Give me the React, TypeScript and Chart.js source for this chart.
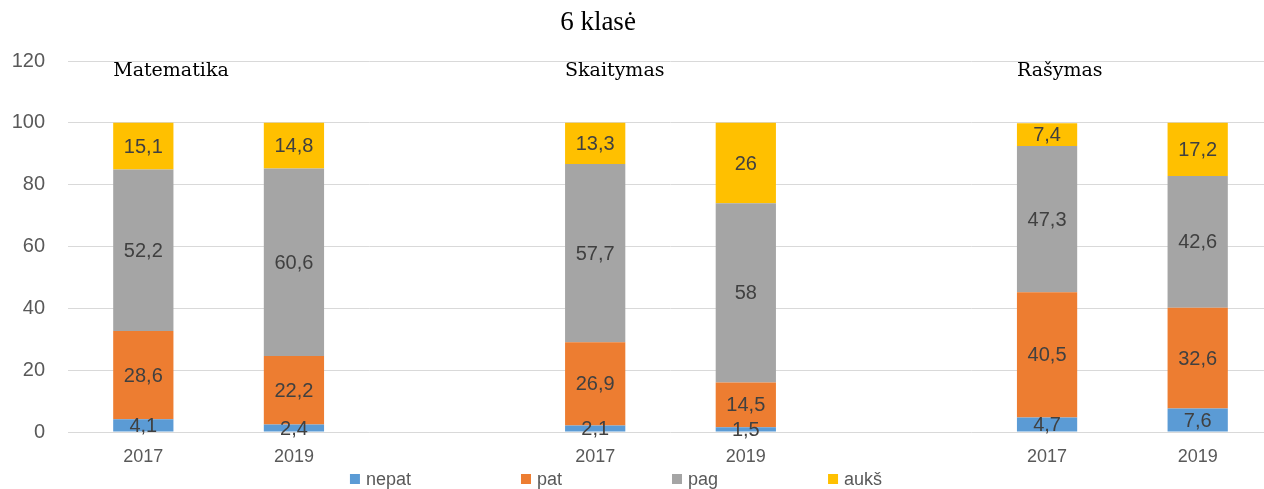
import React, { useEffect, useRef } from 'react';
import { Chart, registerables } from 'chart.js';

Chart.register(...registerables);

const title = '6 klasė';
const categories = ['2017', '2019', '', '2017', '2019', '', '2017', '2019'];
const subjects = ['Matematika', 'Skaitymas', 'Rašymas'];
const subjectIndex = [0, 3, 6];
const seriesNames = ['nepat', 'pat', 'pag', 'aukš'];
const nepat = [4.1, 2.4, null, 2.1, 1.5, null, 4.7, 7.6];
const pat = [28.6, 22.2, null, 26.9, 14.5, null, 40.5, 32.6];
const pag = [52.2, 60.6, null, 57.7, 58, null, 47.3, 42.6];
const auks = [15.1, 14.8, null, 13.3, 26, null, 7.4, 17.2];
const yMin = 0;
const yMax = 120;
const yStep = 20;
const seriesColors = ['#5B9BD5', '#ED7D31', '#A5A5A5', '#FFC000'];

const SANS = '"Liberation Sans", Arial, sans-serif';

const overlayPlugin = {
  id: 'overlay',
  afterDatasetsDraw(chart: any) {
    const ctx = chart.ctx;
    ctx.save();
    ctx.font = `20px ${SANS}`;
    ctx.fillStyle = '#404040';
    ctx.textAlign = 'center';
    ctx.textBaseline = 'middle';
    chart.data.datasets.forEach((ds: any, di: number) => {
      const meta = chart.getDatasetMeta(di);
      meta.data.forEach((bar: any, i: number) => {
        const v = ds.data[i];
        if (v === null || v === undefined) return;
        const cy = (bar.y + bar.base) / 2;
        ctx.fillText(String(v).replace('.', ','), bar.x, cy + 1);
      });
    });
    ctx.restore();
  },
  afterDraw(chart: any) {
    const ctx = chart.ctx;
    const yScale = chart.scales.y;
    ctx.save();
    // title
    ctx.font = `27px "Liberation Serif", "Times New Roman", serif`;
    ctx.fillStyle = '#000000';
    ctx.textAlign = 'center';
    ctx.textBaseline = 'middle';
    ctx.fillText(title, 598, 23);
    // subject labels
    ctx.font = `19px "DejaVu Serif", serif`;
    ctx.textAlign = 'left';
    ctx.textBaseline = 'alphabetic';
    const meta0 = chart.getDatasetMeta(0);
    subjects.forEach((s, k) => {
      const bar: any = meta0.data[subjectIndex[k]];
      const x = bar.x - bar.width / 2;
      ctx.fillText(s, x, yScale.getPixelForValue(115));
    });
    // legend
    ctx.font = `18px ${SANS}`;
    ctx.textBaseline = 'middle';
    const box = 10;
    const gapText = 6;
    const gapItem = 110;
    const widths = seriesNames.map((n) => box + gapText + ctx.measureText(n).width);
    const total = widths.reduce((a, b) => a + b, 0) + gapItem * (seriesNames.length - 1);
    let x = 616 - total / 2;
    const ly = 479;
    seriesNames.forEach((n, i) => {
      ctx.fillStyle = seriesColors[i];
      ctx.fillRect(x, ly - box / 2, box, box);
      ctx.fillStyle = '#595959';
      ctx.fillText(n, x + box + gapText, ly + 1);
      x += widths[i] + gapItem;
    });
    ctx.restore();
  },
};

export default function App() {
  const canvasRef = useRef<HTMLCanvasElement | null>(null);

  useEffect(() => {
    if (!canvasRef.current) return;
    const series = [nepat, pat, pag, auks];
    const chart = new Chart(canvasRef.current, {
      type: 'bar',
      data: {
        labels: categories,
        datasets: series.map((d, i) => ({
          label: seriesNames[i],
          data: d as any,
          backgroundColor: seriesColors[i],
          borderWidth: 0,
          categoryPercentage: 1,
          barPercentage: 0.4,
        })),
      },
      options: {
        animation: false,
        responsive: true,
        maintainAspectRatio: false,
        layout: { padding: { top: 61, right: 0, bottom: 0, left: 0 } },
        plugins: {
          legend: { display: false },
          title: { display: false },
          tooltip: { enabled: false },
        },
        scales: {
          x: {
            stacked: true,
            offset: true,
            grid: { display: false, drawTicks: false },
            border: { display: false },
            ticks: {
              color: '#595959',
              font: { family: SANS, size: 18 },
              padding: 14,
              maxRotation: 0,
              autoSkip: false,
            },
            afterFit(scale: any) {
              scale.height = 57;
            },
          },
          y: {
            stacked: true,
            min: yMin,
            max: yMax,
            grid: { color: '#D9D9D9', lineWidth: 1, drawTicks: false },
            border: { display: false },
            ticks: {
              stepSize: yStep,
              color: '#595959',
              font: { family: SANS, size: 20 },
              padding: 23,
            },
            afterFit(scale: any) {
              scale.width = 68;
            },
          },
        },
      },
      plugins: [overlayPlugin],
    });
    return () => chart.destroy();
  }, []);

  return (
    <div
      style={{
        position: 'fixed',
        left: 0,
        top: 0,
        width: 1264,
        height: 489,
        overflow: 'hidden',
        background: '#ffffff',
      }}
    >
      <div style={{ position: 'relative', width: 1273, height: 489 }}>
        <canvas ref={canvasRef} />
      </div>
    </div>
  );
}
